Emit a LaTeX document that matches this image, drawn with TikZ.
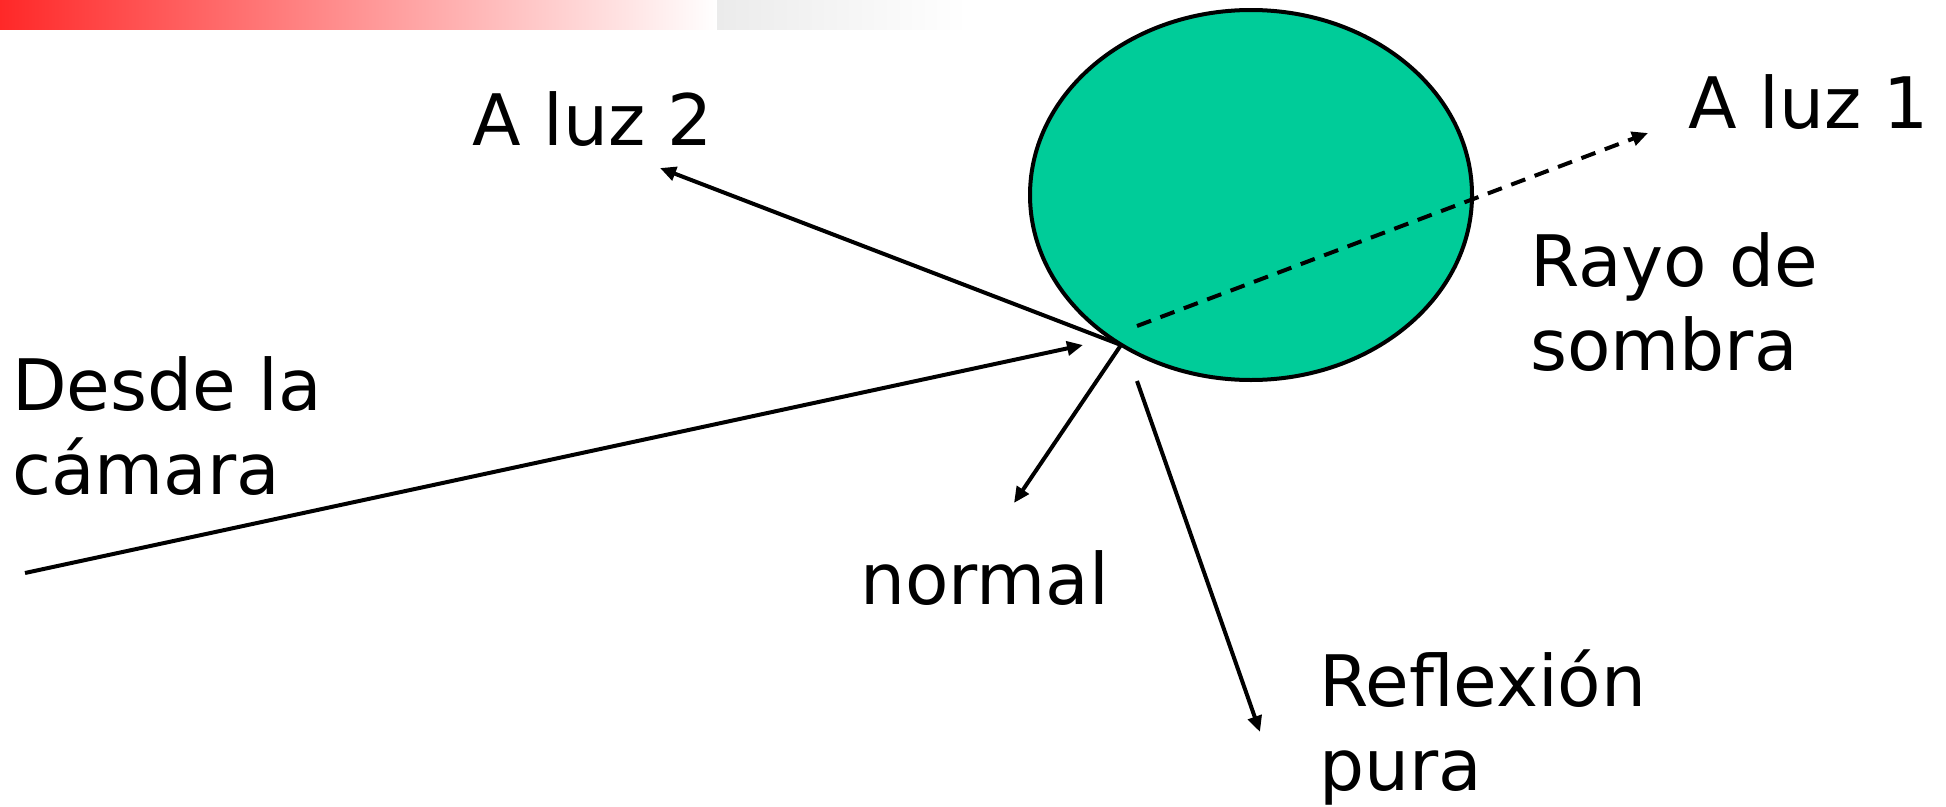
\documentclass[tikz,border=0pt]{standalone}
\usepackage{fontspec}
\setmainfont{DejaVu Sans}
\usetikzlibrary{arrows.meta,shapes.geometric}
\definecolor{spherefill}{RGB}{0,204,153}
\definecolor{barred}{RGB}{255,40,40}
\definecolor{bargray}{RGB}{235,235,235}
\begin{document}
\begin{tikzpicture}[x=1pt,y=-1pt,
  lbl/.style={anchor=base west, inner sep=0pt, align=left,
              font=\fontsize{71}{84}\selectfont},
  ray/.style={line width=4pt, -{Triangle[length=16pt,width=14pt]}},
  shadowray/.style={ray, dash pattern=on 15pt off 10pt}]
\useasboundingbox (0,0) rectangle (1946,806);

% title bar
\shade[left color=barred, right color=white] (0,0) rectangle (717,29);
\shade[left color=bargray, right color=white] (717,0) rectangle (968,29);

% object hit by the ray
\node[ellipse, draw, line width=4pt, fill=spherefill,
      minimum width=442pt, minimum height=370pt, inner sep=0pt]
      (sphere) at (1251,195) {};

% ray end points
\coordinate (camstart) at (25,573);
\coordinate (camend)   at (1083,345);
\coordinate (hit)      at (1121,345);
\coordinate (l2end)    at (660,168);
\coordinate (nend)     at (1014,503);
\coordinate (rstart)   at (1137,381);
\coordinate (rend)     at (1260,732);
\coordinate (sstart)   at (1137,326);
\coordinate (send)     at (1648,133);

% labels (multi-line labels are placed by the baseline of their last line)
\node[lbl] (luz2)   at (472,145)  {A luz 2};
\node[lbl] (luz1)   at (1688,128) {A luz 1};
\node[lbl] (sombra) at (1530,370) {Rayo de\\sombra};
\node[lbl] (camara) at (12,494)   {Desde la\\cámara};
\node[lbl] (normal) at (860,604)  {normal};
\node[lbl] (refl)   at (1319,790) {Reflexión\\pura};

% rays
\draw[ray] (camstart) -- (camend);
\draw[ray] (hit) -- (l2end);
\draw[ray] (hit) -- (nend);
\draw[ray] (rstart) -- (rend);
\draw[shadowray] (sstart) -- (send);
\end{tikzpicture}
\end{document}
